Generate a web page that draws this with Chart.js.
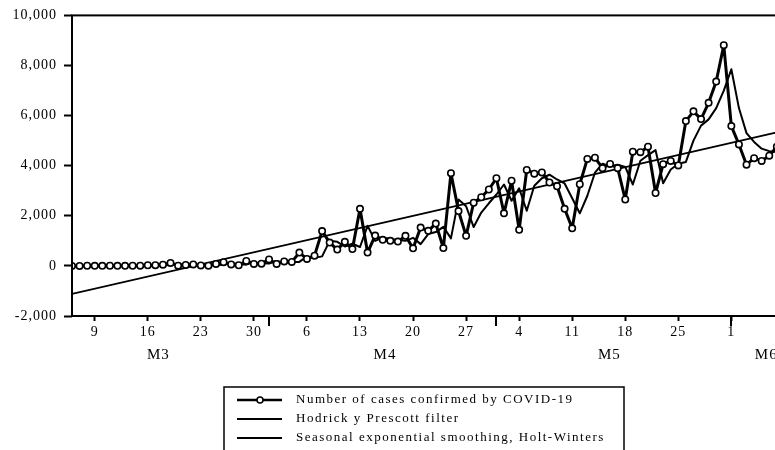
<!DOCTYPE html>
<html>
<head>
<meta charset="utf-8">
<script src="https://cdn.jsdelivr.net/npm/chart.js@4.4.0/dist/chart.umd.min.js"></script>
<style>
  html, body { margin: 0; padding: 0; background: #fff; overflow: hidden; }
  #wrap { width: 790px; height: 450px; }
</style>
</head>
<body>
<div id="wrap"><canvas id="chart" width="790" height="450"></canvas></div>
<script>
// day numbers counted from 1 March (1 Apr = 32, 1 May = 62, 1 Jun = 93)
const firstDay = 6;

// Number of cases confirmed by COVID-19, daily from 6 March
const casesConfirmed = [
  0, 0, 5, 3, 2, 5, 3, 2, 5, 10,
  25, 30, 50, 120, 10, 40, 60, 20, 10, 80,
  150, 60, 25, 200, 80, 90, 260, 80, 180, 160,
  530, 280, 410, 1390, 930, 650, 960, 670, 2280, 530,
  1210, 1040, 1000, 970, 1200, 700, 1530, 1400, 1690, 710,
  3700, 2190, 1200, 2520, 2740, 3050, 3500, 2100, 3400, 1440,
  3830, 3680, 3730, 3330, 3180, 2280, 1500, 3260, 4270, 4320,
  3900, 4070, 3900, 2650, 4560, 4540, 4760, 2910, 4060, 4190,
  4010, 5780, 6170, 5860, 6510, 7360, 8810, 5580, 4850, 4040,
  4300, 4190, 4400, 4760
];

// Seasonal exponential smoothing, Holt-Winters
const holtWinters = [
  0, 0, 0, 3, 3, 2, 4, 3, 2, 4,
  8, 18, 25, 40, 90, 40, 40, 50, 30, 20,
  55, 110, 80, 50, 140, 105, 95, 195, 125, 160,
  160, 380, 320, 380, 1000, 960, 775, 885, 755, 1600,
  1000, 1130, 1070, 1030, 1000, 1120, 870, 1270, 1350, 1560,
  1100, 2650, 2380, 1550, 2130, 2500, 2850, 3250, 2600, 3100,
  2200, 3200, 3500, 3640, 3450, 3290, 2700, 2100, 2800, 3720,
  4080, 3980, 4040, 3950, 3250, 4200, 4420, 4620, 3300, 3850,
  4080, 4150, 5000, 5600, 5850, 6300, 7000, 7850, 6300, 5300,
  4950, 4680, 4580, 4550
];

// Hodrick y Prescott filter (a straight trend)
const hpDays = [6, 52, 99];
const hpValues = [-1120, 2070, 5330];

const days = casesConfirmed.map((_, i) => firstDay + i);

const xTickDays = [9, 16, 23, 30, 37, 44, 51, 58, 65, 72, 79, 86, 93];
const xTickLabels = ['9', '16', '23', '30', '6', '13', '20', '27', '4', '11', '18', '25', '1'];
const monthStartDays = [32, 62, 93];
const monthLabels = ['M3', 'M4', 'M5', 'M6'];
const monthLabelDays = [17.4, 47.3, 76.9, 97.6];

const seriesNames = [
  'Number of cases confirmed by COVID-19',
  'Hodrick y Prescott filter',
  'Seasonal exponential smoothing, Holt-Winters'
];

const serif = '"Liberation Serif", "Times New Roman", serif';

// frame, month ticks/labels and the boxed legend below the plot
const extras = {
  id: 'extras',
  beforeDraw(chart) {
    chart.ctx.letterSpacing = '1px';
  },
  afterDraw(chart) {
    const { ctx, chartArea: a, scales: { x } } = chart;
    ctx.save();
    ctx.strokeStyle = '#000';
    ctx.lineWidth = 2;
    ctx.strokeRect(a.left, a.top, a.right - a.left, a.bottom - a.top);

    monthStartDays.forEach(d => {
      const px = Math.round(x.getPixelForValue(d));
      ctx.beginPath();
      ctx.moveTo(px, a.bottom);
      ctx.lineTo(px, a.bottom + 10);
      ctx.stroke();
    });

    ctx.fillStyle = '#000';
    ctx.font = '15px ' + serif;
    ctx.textAlign = 'center';
    ctx.textBaseline = 'middle';
    monthLabels.forEach((m, i) => ctx.fillText(m, x.getPixelForValue(monthLabelDays[i]), a.bottom + 39));

    // legend
    ctx.lineWidth = 1.5;
    ctx.strokeRect(224, 387, 400, 80);
    ctx.font = '13px ' + serif;
    ctx.letterSpacing = '1.5px';
    ctx.textAlign = 'left';
    seriesNames.forEach((name, i) => {
      const y = 400 + i * 19;
      ctx.lineWidth = i === 0 ? 2.5 : 2;
      ctx.beginPath();
      ctx.moveTo(237, y);
      ctx.lineTo(282, y);
      ctx.stroke();
      if (i === 0) {
        ctx.beginPath();
        ctx.arc(260, y, 3, 0, Math.PI * 2);
        ctx.fillStyle = '#fff';
        ctx.fill();
        ctx.lineWidth = 1.5;
        ctx.stroke();
        ctx.fillStyle = '#000';
      }
      ctx.fillText(name, 296, y);
    });
    ctx.restore();
    ctx.letterSpacing = '0px';
  }
};

const ctx = document.getElementById('chart').getContext('2d');
new Chart(ctx, {
  type: 'line',
  data: {
    datasets: [
      {
        label: seriesNames[0],
        data: days.map((d, i) => ({ x: d, y: casesConfirmed[i] })),
        borderColor: '#000',
        borderWidth: 3,
        borderJoinStyle: 'round',
        pointRadius: 3.2,
        pointBorderWidth: 1.6,
        pointBackgroundColor: '#fff',
        pointBorderColor: '#000'
      },
      {
        label: seriesNames[1],
        data: hpDays.map((d, i) => ({ x: d, y: hpValues[i] })),
        borderColor: '#000',
        borderWidth: 1.8,
        pointRadius: 0
      },
      {
        label: seriesNames[2],
        data: days.map((d, i) => ({ x: d, y: holtWinters[i] })),
        borderColor: '#000',
        borderWidth: 2,
        borderJoinStyle: 'round',
        pointRadius: 0
      }
    ]
  },
  options: {
    responsive: false,
    animation: false,
    devicePixelRatio: 1,
    layout: { padding: { top: 13, right: 5.5, left: 0, bottom: 0 } },
    plugins: { legend: { display: false }, tooltip: { enabled: false } },
    scales: {
      x: {
        type: 'linear',
        min: 6,
        max: 100,
        afterBuildTicks: s => { s.ticks = xTickDays.map(v => ({ value: v })); },
        afterFit: s => { s.height = 134; },
        ticks: {
          autoSkip: false,
          maxRotation: 0,
          padding: 3,
          color: '#000',
          font: { family: serif, size: 14 },
          callback: v => xTickLabels[xTickDays.indexOf(v)]
        },
        grid: { drawOnChartArea: false, tickLength: 5, tickColor: '#000', tickWidth: 2 },
        border: { display: false }
      },
      y: {
        min: -2000,
        max: 10000,
        afterFit: s => { s.width = 72; },
        ticks: {
          stepSize: 2000,
          padding: 7,
          color: '#000',
          font: { family: serif, size: 14 },
          callback: v => v.toLocaleString('en-US')
        },
        grid: { drawOnChartArea: false, tickLength: 8, tickColor: '#000', tickWidth: 2 },
        border: { display: false }
      }
    }
  },
  plugins: [extras]
});
</script>
</body>
</html>
